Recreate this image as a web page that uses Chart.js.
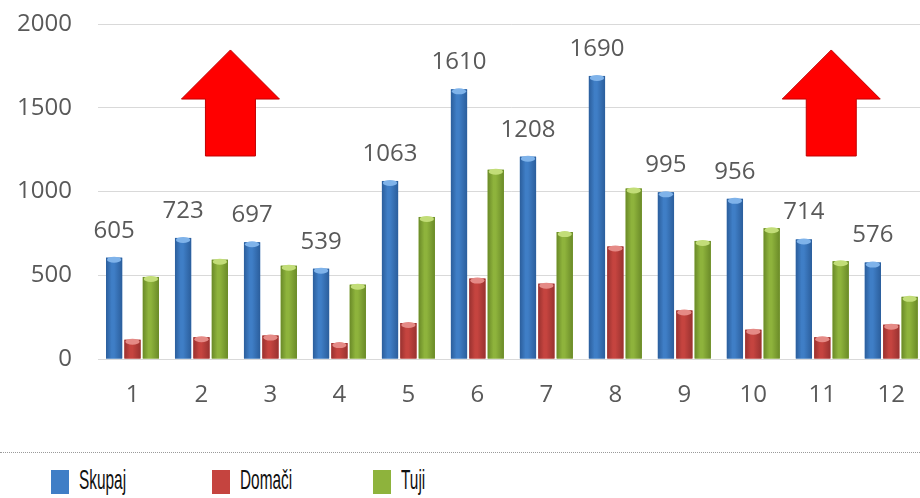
<!DOCTYPE html>
<html>
<head>
<meta charset="utf-8">
<script src="https://cdn.jsdelivr.net/npm/chart.js@4.4.1/dist/chart.umd.min.js"></script>
<style>
    html, body { margin: 0; padding: 0; background: #fff; }
    #wrap { position: relative; width: 920px; height: 498px; overflow: hidden; }
    #myChart { position: absolute; left: 0; top: 0; }
    #sep { position: absolute; left: 0; top: 452px; width: 920px; border-top: 1px dotted #9a9a9a; }
    #legend { position: absolute; left: 51px; top: 470px; display: flex; }
    .item { width: 161px; display: flex; align-items: flex-start; }
    .box { width: 18px; height: 24px; }
    .lbl { margin-left: 10px; margin-top: -6px; font-family: "Liberation Sans Narrow", "Liberation Sans", sans-serif; font-size: 28px; color: #111; transform: scaleX(0.55); transform-origin: left center; white-space: nowrap; }
</style>
</head>
<body>
<div id="wrap">
    <canvas id="myChart" width="927" height="420"></canvas>
    <div id="sep"></div>
    <div id="legend"></div>
</div>
<script>
var months = ['1', '2', '3', '4', '5', '6', '7', '8', '9', '10', '11', '12'];
var skupaj = [605, 723, 697, 539, 1063, 1610, 1208, 1690, 995, 956, 714, 576];
var domaci = [115, 130, 140, 95, 215, 480, 450, 672, 290, 175, 130, 205];
var tuji = [490, 593, 557, 444, 848, 1130, 758, 1018, 705, 781, 584, 371];
var seriesNames = ['Skupaj', 'Domači', 'Tuji'];
var yTicks = [0, 500, 1000, 1500, 2000];

var colors = ['#3f7ec6', '#c5443f', '#8eb33c'];
var edgeColors = ['#2b5e9c', '#993230', '#6a8a28'];
var capColors = ['#7fb3ea', '#e58a86', '#c2dd78'];

// decorative up arrows: [category position, tip value, head base value, shaft bottom value]
var arrows = [[1.42, 1845, 1552, 1212], [10.13, 1845, 1552, 1212]];

var labelFont = '24px "Open Sans", sans-serif';

// shade each bar like a cylinder
const barShade = {
    id: 'barShade',
    afterDatasetDraw(chart, args) {
        var c = chart.ctx;
        var i = args.index;
        args.meta.data.forEach(function (bar) {
            var x0 = bar.x - bar.width / 2;
            var g = c.createLinearGradient(x0, 0, x0 + bar.width, 0);
            g.addColorStop(0, edgeColors[i]);
            g.addColorStop(0.35, colors[i]);
            g.addColorStop(0.5, colors[i]);
            g.addColorStop(1, edgeColors[i]);
            c.save();
            c.fillStyle = g;
            c.fillRect(x0, bar.y, bar.width, bar.base - bar.y);
            c.fillStyle = capColors[i];
            c.beginPath();
            c.ellipse(bar.x, bar.y + 2, bar.width / 2 - 1, 3, 0, 0, Math.PI * 2);
            c.fill();
            c.restore();
        });
    }
};

// totals above the blue bars
const topLabels = {
    id: 'topLabels',
    afterDatasetsDraw(chart) {
        var c = chart.ctx;
        var meta = chart.getDatasetMeta(0);
        c.save();
        c.font = labelFont;
        c.fillStyle = '#595959';
        c.textAlign = 'center';
        c.textBaseline = 'middle';
        meta.data.forEach(function (bar, k) {
            c.fillText(skupaj[k], bar.x, bar.y - 27);
        });
        c.restore();
    }
};

const upArrows = {
    id: 'upArrows',
    afterDraw(chart) {
        var c = chart.ctx;
        var xs = chart.scales.x, ys = chart.scales.y;
        arrows.forEach(function (a) {
            var cx = xs.getPixelForValue(a[0]);
            var tip = ys.getPixelForValue(a[1]);
            var head = ys.getPixelForValue(a[2]);
            var bot = ys.getPixelForValue(a[3]);
            c.save();
            c.beginPath();
            c.moveTo(cx, tip);
            c.lineTo(cx + 49, head);
            c.lineTo(cx + 25, head);
            c.lineTo(cx + 25, bot);
            c.lineTo(cx - 25, bot);
            c.lineTo(cx - 25, head);
            c.lineTo(cx - 49, head);
            c.closePath();
            c.fillStyle = '#ff0000';
            c.fill();
            c.strokeStyle = '#c00000';
            c.lineWidth = 1;
            c.stroke();
            c.restore();
        });
    }
};

const ctx1 = document.getElementById('myChart');

const chart = new Chart(ctx1, {
    type: 'bar',
    data: {
        labels: months,
        datasets: [
            { label: seriesNames[0], data: skupaj, backgroundColor: colors[0] },
            { label: seriesNames[1], data: domaci, backgroundColor: colors[1] },
            { label: seriesNames[2], data: tuji, backgroundColor: colors[2] }
        ]
    },
    options: {
        responsive: false,
        animation: false,
        categoryPercentage: 0.8,
        barPercentage: 0.88,
        layout: { padding: { top: 24, bottom: 0, left: 0, right: 0 } },
        plugins: {
            legend: { display: false },
            tooltip: { enabled: false }
        },
        scales: {
            x: {
                afterFit: function (s) { s.height = 61; },
                grid: { display: false, drawTicks: false },
                border: { display: true, color: '#d9d9d9' },
                ticks: { color: '#595959', font: { family: 'Open Sans', size: 24 }, padding: 22 }
            },
            y: {
                min: 0,
                max: 2000,
                afterFit: function (s) { s.width = 98; s.paddingTop = 0; s.paddingBottom = 0; },
                afterBuildTicks: function (s) { s.ticks = yTicks.map(function (v) { return { value: v }; }); },
                grid: { color: '#d9d9d9', drawTicks: false },
                border: { display: false },
                ticks: {
                    color: '#595959',
                    font: { family: 'Open Sans', size: 24 },
                    padding: 26,
                    callback: function (v) { return String(v); }
                }
            }
        }
    },
    plugins: [barShade, topLabels, upArrows]
});

// legend
var legend = document.getElementById('legend');
seriesNames.forEach(function (name, i) {
    var item = document.createElement('div');
    item.className = 'item';
    item.innerHTML = '<div class="box" style="background:' + colors[i] + '"></div><div class="lbl">' + name + '</div>';
    legend.appendChild(item);
});
</script>
</body>
</html>
